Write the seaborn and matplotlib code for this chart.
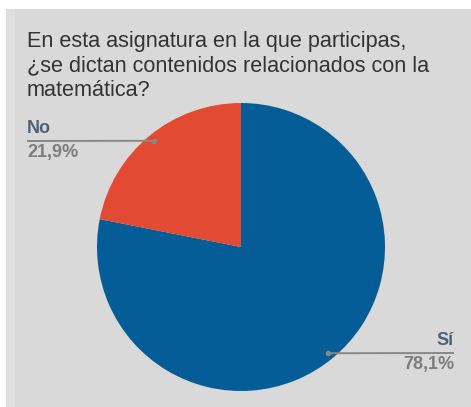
import numpy as np
import matplotlib
matplotlib.use("Agg")
import matplotlib.pyplot as plt
from matplotlib.patches import Rectangle
import seaborn as sns

# Survey answers
categories = ["Sí", "No"]
shares = [78.1, 21.9]
value_labels = ["78,1%", "21,9%"]
title = "En esta asignatura en la que participas,\n¿se dictan contenidos relacionados con la\nmatemática?"

sns.set_style("white")
plt.rcParams["font.family"] = ["Liberation Sans", "DejaVu Sans"]
palette = sns.color_palette(["#045d96", "#e24a33"])

W, H = 471, 407
fig = plt.figure(figsize=(W / 100, H / 100), dpi=100, facecolor="white")

# Grey card behind the chart
bg = "#d9d9d9"
fig.patches.append(Rectangle((6 / W, 0), 1 - 6 / W, 1 - 9 / H, transform=fig.transFigure,
                             facecolor=bg, edgecolor="none", zorder=-2))
fig.patches.append(Rectangle((6 / W, 0), 9 / W, 1 - 9 / H, transform=fig.transFigure,
                             facecolor="#dfdfdf", edgecolor="none", zorder=-1))

# Pie axes: centre and radius in pixels
cx, cy, r = 241, 247, 144
ax = fig.add_axes([(cx - r) / W, (H - cy - r) / H, 2 * r / W, 2 * r / H])
ax.set_zorder(1)
ax.set_facecolor("none")
wedges, _ = ax.pie(shares, colors=palette, startangle=90, counterclock=False,
                   radius=1, wedgeprops=dict(linewidth=0))
ax.set_xlim(-1, 1)
ax.set_ylim(-1, 1)
ax.set_aspect("equal")
ax.axis("off")

fig.text(27 / W, 1 - 31 / H, title, ha="left", va="top", fontsize=15.6,
         color="#333333", linespacing=1.23, zorder=2)

# Callouts: line from the text to the middle of each wedge
label_color = "#4d6275"
value_color = "#7d7d7d"
line_color = "#888888"
text_anchor = {"Sí": (454, 353, "right"), "No": (27, 141, "left")}
for w, cat, val in zip(wedges, categories, value_labels):
    mid = np.deg2rad((w.theta1 + w.theta2) / 2)
    px, py = 0.955 * np.cos(mid), 0.955 * np.sin(mid)
    tx_px, ty_px, ha = text_anchor[cat]
    disp = fig.transFigure.transform((tx_px / W, 1 - ty_px / H))
    tx, ty = ax.transData.inverted().transform(disp)
    ax.plot([tx, px], [ty, py], color=line_color, lw=1.4, clip_on=False,
            solid_capstyle="butt")
    ax.plot([px], [py], marker="o", ms=3, color=line_color, clip_on=False)
    ax.annotate(cat, (tx, ty), xytext=(0, 4), textcoords="offset pixels",
                ha=ha, va="bottom", fontsize=13, fontweight="bold",
                color=label_color, annotation_clip=False)
    ax.annotate(val, (tx, ty), xytext=(0, -3), textcoords="offset pixels",
                ha=ha, va="top", fontsize=13, fontweight="bold",
                color=value_color, annotation_clip=False)

fig.savefig("out.png", dpi=100, facecolor="white")
